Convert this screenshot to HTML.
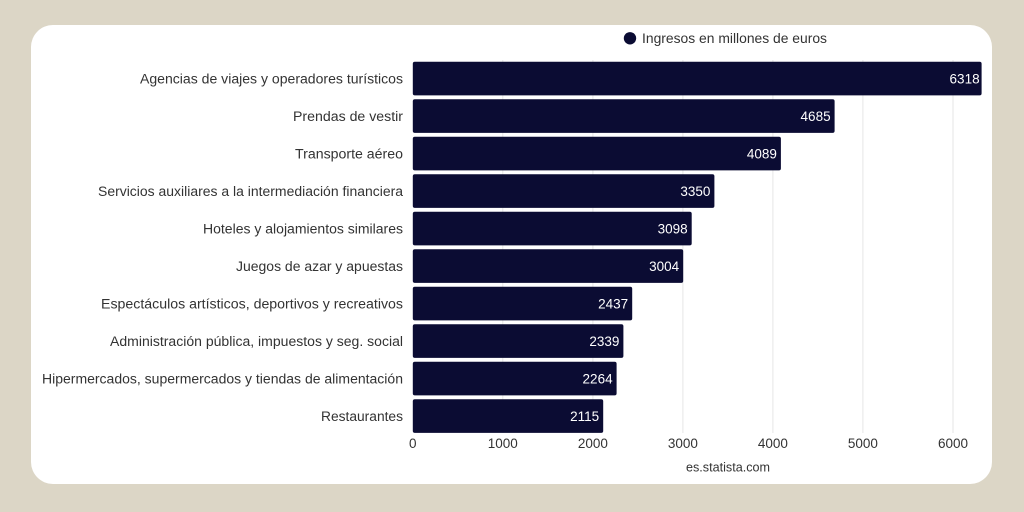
<!DOCTYPE html>
<html><head><meta charset="utf-8"><style>
html,body{margin:0;padding:0;background:#dcd6c6;}
svg{display:block;}
text{font-family:"Liberation Sans",sans-serif;}
</style></head><body>
<svg width="1024" height="512" viewBox="0 0 1024 512" xmlns="http://www.w3.org/2000/svg">
<rect x="0" y="0" width="1024" height="512" fill="#dcd6c6"/>
<rect x="31" y="25" width="961" height="459" rx="22" fill="#ffffff"/>
<g stroke="#e6e6e6" stroke-width="1">
<line x1="502.8" y1="60" x2="502.8" y2="433"/>
<line x1="592.9" y1="60" x2="592.9" y2="433"/>
<line x1="682.9" y1="60" x2="682.9" y2="433"/>
<line x1="772.9" y1="60" x2="772.9" y2="433"/>
<line x1="862.9" y1="60" x2="862.9" y2="433"/>
<line x1="953" y1="60" x2="953" y2="433"/>
</g>
<circle cx="630" cy="38.3" r="6.2" fill="#0b0c33"/>
<text x="642" y="43" font-size="13.5" fill="#333" textLength="185" lengthAdjust="spacingAndGlyphs">Ingresos en millones de euros</text>
<g fill="#0b0c33">
<rect x="412.8" y="61.7" width="568.8" height="33.7" rx="2"/>
<rect x="412.8" y="99.2" width="421.8" height="33.7" rx="2"/>
<rect x="412.8" y="136.7" width="368.1" height="33.7" rx="2"/>
<rect x="412.8" y="174.2" width="301.6" height="33.7" rx="2"/>
<rect x="412.8" y="211.7" width="278.9" height="33.7" rx="2"/>
<rect x="412.8" y="249.2" width="270.4" height="33.7" rx="2"/>
<rect x="412.8" y="286.7" width="219.4" height="33.7" rx="2"/>
<rect x="412.8" y="324.2" width="210.6" height="33.7" rx="2"/>
<rect x="412.8" y="361.7" width="203.8" height="33.7" rx="2"/>
<rect x="412.8" y="399.2" width="190.4" height="33.7" rx="2"/>
</g>
<g font-size="13.5" fill="#ffffff" text-anchor="end">
<text x="979.6" y="83.4">6318</text>
<text x="830.6" y="120.9">4685</text>
<text x="776.9" y="158.4">4089</text>
<text x="710.4" y="195.9">3350</text>
<text x="687.7" y="233.4">3098</text>
<text x="679.2" y="270.9">3004</text>
<text x="628.2" y="308.4">2437</text>
<text x="619.4" y="345.9">2339</text>
<text x="612.6" y="383.4">2264</text>
<text x="599.2" y="420.9">2115</text>
</g>
<g font-size="13.5" fill="#333" text-anchor="end">
<text x="403" y="83.4" textLength="263" lengthAdjust="spacingAndGlyphs">Agencias de viajes y operadores turísticos</text>
<text x="403" y="120.9" textLength="110" lengthAdjust="spacingAndGlyphs">Prendas de vestir</text>
<text x="403" y="158.4" textLength="108" lengthAdjust="spacingAndGlyphs">Transporte aéreo</text>
<text x="403" y="195.9" textLength="305" lengthAdjust="spacingAndGlyphs">Servicios auxiliares a la intermediación financiera</text>
<text x="403" y="233.4" textLength="200" lengthAdjust="spacingAndGlyphs">Hoteles y alojamientos similares</text>
<text x="403" y="270.9" textLength="167" lengthAdjust="spacingAndGlyphs">Juegos de azar y apuestas</text>
<text x="403" y="308.4" textLength="302" lengthAdjust="spacingAndGlyphs">Espectáculos artísticos, deportivos y recreativos</text>
<text x="403" y="345.9" textLength="293" lengthAdjust="spacingAndGlyphs">Administración pública, impuestos y seg. social</text>
<text x="403" y="383.4" textLength="361" lengthAdjust="spacingAndGlyphs">Hipermercados, supermercados y tiendas de alimentación</text>
<text x="403" y="420.9" textLength="82" lengthAdjust="spacingAndGlyphs">Restaurantes</text>
</g>
<g font-size="13.5" fill="#333" text-anchor="middle">
<text x="412.8" y="448">0</text>
<text x="502.8" y="448">1000</text>
<text x="592.9" y="448">2000</text>
<text x="682.9" y="448">3000</text>
<text x="772.9" y="448">4000</text>
<text x="862.9" y="448">5000</text>
<text x="953" y="448">6000</text>
</g>
<text x="728" y="471.5" font-size="12.5" fill="#333" text-anchor="middle" textLength="84" lengthAdjust="spacingAndGlyphs">es.statista.com</text>
</svg>
</body></html>
